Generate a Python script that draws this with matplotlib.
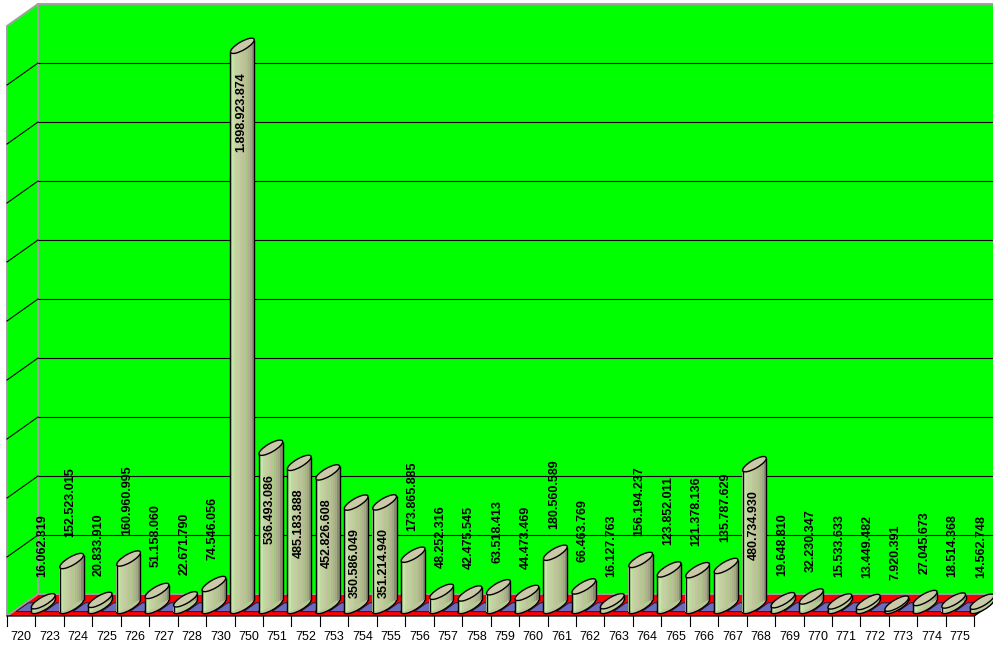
import matplotlib
matplotlib.use('Agg')
import matplotlib.pyplot as plt
from matplotlib.patches import Polygon, Ellipse, Rectangle
from matplotlib.transforms import ScaledTranslation
import numpy as np

categories = ['720', '723', '724', '725', '726', '727', '728', '730', '750', '751',
              '752', '753', '754', '755', '756', '757', '758', '759', '760', '761',
              '762', '763', '764', '765', '766', '767', '768', '769', '770', '771',
              '772', '773', '774', '775']
values = [16062319, 152523015, 20833910, 160960995, 51158060, 22671790, 74546056,
          1898923874, 536493086, 485183888, 452826608, 350586049, 351214940,
          173865885, 48252316, 42475545, 63518413, 44473469, 180560589, 66463769,
          16127763, 156194237, 123852011, 121378136, 135787629, 480734930,
          19648810, 32230347, 15533633, 13449482, 7920391, 27045673, 18514368,
          14562748]
y_max = 2_000_000_000
grid_step = 200_000_000

W, H = 993, 645
fig = plt.figure(figsize=(W / 100, H / 100), dpi=100)
ax = fig.add_axes([0, 0, 1, 1])
ax.axis('off')

# back wall geometry in pixels
slot_px = 28.45
wall_left, wall_bottom, wall_top = 38, 594, 4
n = len(categories)
ux = 1 / slot_px                              # data units per pixel (x)
uy = y_max / (wall_bottom - wall_top)         # data units per pixel (y)
ax.set_xlim(-0.5 - wall_left * ux, -0.5 + (W - wall_left) * ux)
ax.set_ylim(-(H - wall_bottom) * uy, y_max + wall_top * uy)

depth_dx, depth_dy = -31, -22     # back -> front offset in pixels


def shift(x, v, d):
    # point on the plane at depth d (0 = back wall, 1 = front edge)
    return (x + depth_dx * d * ux, v + depth_dy * d * uy)


# floor
floor = [shift(-0.5, 0, 0), shift(n - 0.5, 0, 0), shift(n - 0.5, 0, 1), shift(-0.5, 0, 1)]
ax.add_patch(Polygon(floor, closed=True, facecolor='#ff0000', edgecolor='none', zorder=1))
ax.plot([floor[3][0], floor[2][0], floor[1][0]], [floor[3][1], floor[2][1], floor[1][1]],
        color='black', lw=0.9, zorder=2)

# blue slot plates on the floor
for i in range(n):
    xl, xr = i - 0.5 + 0.1, i - 0.5 + 0.8
    pts = [shift(xl, 0, 0.4), shift(xr, 0, 0.4), shift(xr, 0, 0.8), shift(xl, 0, 0.8)]
    ax.add_patch(Polygon(pts, closed=True, facecolor='#6b6bbb', edgecolor='#1a1a40',
                         lw=0.7, zorder=2))

# back wall
ax.add_patch(Rectangle((-0.5, 0), n, y_max, facecolor='#00ff00', edgecolor='#a0a0a0',
                       lw=1.4, zorder=1))
# left wall
left_wall = [shift(-0.5, 0, 0), shift(-0.5, y_max, 0), shift(-0.5, y_max, 1), shift(-0.5, 0, 1)]
ax.add_patch(Polygon(left_wall, closed=True, facecolor='#00ff00', edgecolor='#a0a0a0',
                     lw=1.4, zorder=1))

grid = np.arange(grid_step, y_max, grid_step)
ax.hlines(grid, -0.5, n - 0.5, color='black', lw=0.8, zorder=1.5)
for g in grid:
    p0, p1 = shift(-0.5, g, 0), shift(-0.5, g, 1)
    ax.plot([p0[0], p1[0]], [p0[1], p1[1]], color='black', lw=0.8, zorder=1.5)

# x axis ticks and labels on the front edge
for k in range(n + 1):
    p = shift(k - 0.5, 0, 1)
    ax.plot([p[0], p[0]], [p[1], p[1] - 10 * uy], color='black', lw=0.8, zorder=2)
for i, lab in enumerate(categories):
    p = shift(i, 0, 1)
    ax.text(p[0], p[1] - 21 * uy, lab, ha='center', va='center', fontsize=9,
            family='Liberation Sans', zorder=5)

# cylinders
cyl_dx, cyl_dy = -9, -12
ell_a, ell_b, ell_ang = 13.5, 4.2, 30
th = np.radians(ell_ang)
half_w = np.sqrt(ell_a**2 * np.cos(th)**2 + ell_b**2 * np.sin(th)**2)
slope = (ell_a**2 - ell_b**2) * np.sin(th) * np.cos(th) / half_w / half_w
stripe_colors = ['#b4d494', '#c8e4ac', '#bcdc9c', '#cccaa8', '#b8d496', '#c6c2a2',
                 '#b0cc8c', '#c0bc9c', '#a8c484', '#b2ae90', '#a0aa82', '#8c8c70']
ns = len(stripe_colors)
xs = np.arange(n) + cyl_dx * ux
base = cyl_dy * uy
vals = np.array(values, dtype=float)

for i in range(n):
    ax.add_patch(Ellipse((0, 0), 2 * ell_a, 2 * ell_b, angle=ell_ang,
                         transform=ScaledTranslation(xs[i], base, ax.transData),
                         facecolor='#b8c898', edgecolor='black', lw=1.0, zorder=3))

sw = 2 * half_w / ns
for k, c in enumerate(stripe_colors):
    u = -half_w + (k + 0.5) * sw
    ax.bar(xs + u * ux, vals, width=(sw + 0.6) * ux, bottom=base + slope * u * uy,
           color=c, edgecolor='none', zorder=3.2)

ax.vlines(xs - half_w * ux, base - slope * half_w * uy, vals + base - slope * half_w * uy,
          color='black', lw=1.0, zorder=3.3)
ax.vlines(xs + half_w * ux, base + slope * half_w * uy, vals + base + slope * half_w * uy,
          color='black', lw=1.0, zorder=3.3)

for i in range(n):
    ax.add_patch(Ellipse((0, 0), 2 * ell_a, 2 * ell_b, angle=ell_ang,
                         transform=ScaledTranslation(xs[i], vals[i] + base, ax.transData),
                         facecolor='#cacaa8', edgecolor='black', lw=1.0, zorder=3.4))

# value labels
for i, v in enumerate(values):
    txt = f'{v:,}'.replace(',', '.')
    top = v + base
    if v < 300_000_000:
        ax.text(xs[i] - ux, top + 24 * uy, txt, rotation=90, ha='center', va='bottom',
                fontsize=9, fontweight='bold', family='Liberation Sans', zorder=6)
    else:
        ax.text(xs[i] - ux, top - 26 * uy, txt, rotation=90, ha='center', va='top',
                fontsize=9, fontweight='bold', family='Liberation Sans', zorder=6)

fig.savefig('out.png', dpi=100, facecolor='white')
